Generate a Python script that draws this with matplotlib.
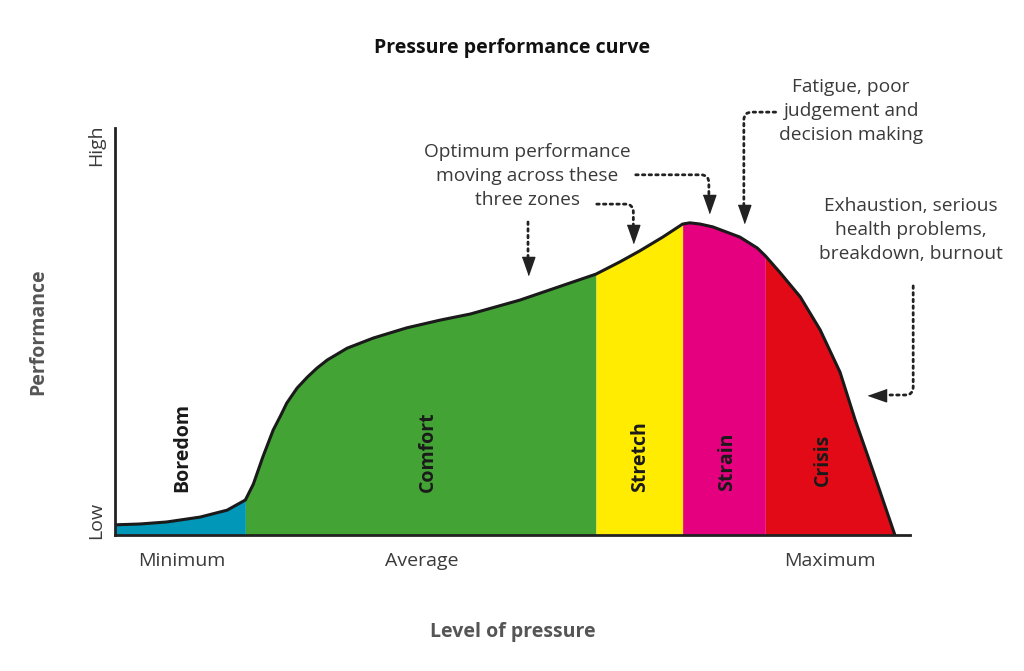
import numpy as np
import matplotlib
matplotlib.use('Agg')
import matplotlib.pyplot as plt

plt.rcParams['font.family'] = ['Open Sans', 'DejaVu Sans']

# 曲线数据（压力水平 0-100，表现 0-100）
pressure = [0.0, 3.1, 6.5, 10.7, 14.1, 16.4, 17.4, 18.6, 19.9, 20.8, 21.6, 22.9,
            24.2, 25.4, 26.7, 29.2, 32.5, 36.7, 40.9, 44.7, 50.9, 57.2, 60.5,
            63.5, 66.0, 68.9, 71.4, 72.3, 73.6, 75.2, 78.6, 80.8, 81.8, 83.6,
            86.2, 88.7, 91.2, 93.1, 95.3, 98.1]
performance = [2.5, 2.7, 3.2, 4.4, 6.1, 8.6, 12.5, 19.2, 25.8, 29.2, 32.4, 36.1,
               38.8, 41.0, 43.0, 45.9, 48.4, 50.9, 52.8, 54.3, 57.7, 61.9, 64.1,
               67.1, 69.8, 73.2, 76.4, 76.7, 76.4, 75.7, 73.2, 70.5, 68.6, 64.6,
               58.5, 50.4, 40.0, 28.3, 16.0, 0.0]

zone_names = ['Boredom', 'Comfort', 'Stretch', 'Strain', 'Crisis']
zone_edges = [0.0, 16.4, 60.5, 71.4, 81.8, 98.1]
zone_colors = ['#0097b8', '#43a435', '#ffec00', '#e4007f', '#e30a17']
zone_label_pos = [(8.4, 21.6), (39.4, 20.4), (66.0, 19.2), (77.0, 17.9), (89.1, 18.4)]

tick_pos = [8.4, 38.6, 89.9]
tick_labels = ['Minimum', 'Average', 'Maximum']

x = np.array(pressure)
y = np.array(performance)

fig = plt.figure(figsize=(10.24, 6.71), dpi=100)
ax = fig.add_axes([115 / 1024, 136 / 671, 795 / 1024, 407 / 671])
ax.set_xlim(0, 100)
ax.set_ylim(0, 100)

# 区域填充
for i in range(len(zone_names)):
    m = (x >= zone_edges[i]) & (x <= zone_edges[i + 1])
    ax.fill_between(x[m], 0, y[m], color=zone_colors[i], lw=0)
ax.plot(x, y, color='#1a1a1a', lw=2.2, solid_joinstyle='round')

for name, (px, py) in zip(zone_names, zone_label_pos):
    ax.text(px, py, name, rotation=90, ha='center', va='center',
            fontsize=14, fontweight='bold', color='#1a1a1a')

# 坐标轴
for s in ['top', 'right']:
    ax.spines[s].set_visible(False)
for s in ['left', 'bottom']:
    ax.spines[s].set_linewidth(2)
    ax.spines[s].set_color('#222222')

ax.set_xticks(tick_pos, tick_labels)
ax.set_yticks([3.7, 95.8], ['Low', 'High'], rotation=90, va='center')
ax.tick_params(length=0, labelsize=14, labelcolor='#3a3a3a')
ax.tick_params(axis='x', pad=12)
ax.tick_params(axis='y', pad=7)

ax.set_xlabel('Level of pressure', fontsize=14, fontweight='bold', color='#555555', labelpad=38)
ax.set_ylabel('Performance', fontsize=14, fontweight='bold', color='#555555', labelpad=28)
ax.set_title('Pressure performance curve', fontsize=14, fontweight='bold', color='#111111', pad=54)

# 注释文字
txt = dict(fontsize=13.8, color='#3a3a3a', ha='center', va='center', linespacing=1.45)
ax.text(51.9, 88.2, 'Optimum performance\nmoving across these\nthree zones', **txt)
ax.text(92.6, 104.2, 'Fatigue, poor\njudgement and\ndecision making', **txt)
ax.text(100.1, 74.9, 'Exhaustion, serious\nhealth problems,\nbreakdown, burnout', **txt)

# 虚线箭头：起点、箭身终点、箭头尖、连接方式、方向
arrows = [
    ((51.95, 76.9), (51.95, 68.3), (51.95, 63.9), 'arc3,rad=0', 'down'),
    ((60.6, 81.3), (65.2, 76.1), (65.2, 71.7), 'angle,angleA=0,angleB=90,rad=8', 'down'),
    ((65.5, 88.5), (74.7, 83.5), (74.7, 79.1), 'angle,angleA=0,angleB=90,rad=8', 'down'),
    ((83.1, 103.9), (79.1, 81.1), (79.1, 76.7), 'angle,angleA=180,angleB=90,rad=8', 'down'),
    ((100.4, 61.2), (97.0, 34.4), (94.7, 34.4), 'angle,angleA=-90,angleB=0,rad=8', 'left'),
]
head_down = [(-0.7, 2), (0.7, 2), (0, 0)]
head_left = [(2, 0.7), (2, -0.7), (0, 0)]
for start, end, tip, conn, d in arrows:
    ax.annotate('', xy=end, xytext=start, annotation_clip=False,
                arrowprops=dict(arrowstyle='-', connectionstyle=conn,
                                linestyle=(0, (0.9, 1.5)), lw=2, color='#222222',
                                shrinkA=0, shrinkB=0))
    ax.plot(tip[0], tip[1], marker=head_down if d == 'down' else head_left,
            markersize=26, color='#222222', clip_on=False, lw=0)

fig.savefig('out.png', dpi=100)
